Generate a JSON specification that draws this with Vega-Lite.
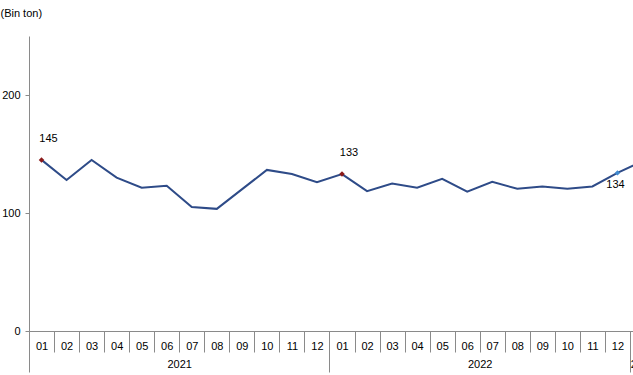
{
  "$schema": "https://vega.github.io/schema/vega-lite/v6.json",
  "width": 626,
  "height": 295,
  "autosize": "none",
  "padding": {"left": 29, "top": 36, "right": -22, "bottom": 44},
  "background": "white",
  "config": {
    "font": "Liberation Sans",
    "view": {"stroke": null},
    "axis": {
      "labelFont": "Liberation Sans",
      "labelFontSize": 11,
      "labelColor": "#000000",
      "domainColor": "#8a8a8a",
      "tickColor": "#8a8a8a",
      "grid": false
    }
  },
  "data": {
    "values": [
      {"key": "2021-01", "value": 145, "marker": "red", "pos": "above"},
      {"key": "2021-02", "value": 128},
      {"key": "2021-03", "value": 145},
      {"key": "2021-04", "value": 130},
      {"key": "2021-05", "value": 121.5},
      {"key": "2021-06", "value": 123},
      {"key": "2021-07", "value": 105},
      {"key": "2021-08", "value": 103.5},
      {"key": "2021-09", "value": 120},
      {"key": "2021-10", "value": 136.5},
      {"key": "2021-11", "value": 133},
      {"key": "2021-12", "value": 126},
      {"key": "2022-01", "value": 133, "marker": "red", "pos": "above"},
      {"key": "2022-02", "value": 118.5},
      {"key": "2022-03", "value": 125},
      {"key": "2022-04", "value": 121.5},
      {"key": "2022-05", "value": 129},
      {"key": "2022-06", "value": 118},
      {"key": "2022-07", "value": 126.5},
      {"key": "2022-08", "value": 120.5},
      {"key": "2022-09", "value": 122.5},
      {"key": "2022-10", "value": 120.5},
      {"key": "2022-11", "value": 122.5},
      {"key": "2022-12", "value": 134, "marker": "blue", "pos": "below"},
      {"key": "2023-01", "value": 144, "marker": "red", "pos": "above"}
    ]
  },
  "encoding": {
    "y": {
      "field": "value", "type": "quantitative",
      "scale": {"domain": [0, 250], "nice": false},
      "axis": {
        "orient": "left",
        "values": [0, 100, 200],
        "tickSize": 4,
        "labelPadding": 5,
        "title": "(Bin  ton)",
        "titleAngle": 0,
        "titleX": -29,
        "titleY": -23,
        "titleAlign": "left",
        "titleBaseline": "middle",
        "titleFont": "Liberation Sans",
        "titleFontSize": 11,
        "titleFontWeight": "normal",
        "titleColor": "#000000"
      }
    }
  },
  "resolve": {"axis": {"x": "independent"}},
  "layer": [
    {
      "mark": {"type": "line", "color": "#2E4B88", "strokeWidth": 2},
      "encoding": {
        "x": {
          "field": "key", "type": "ordinal",
          "scale": {"type": "point", "padding": 0.5},
          "axis": {
            "orient": "bottom",
            "title": null,
            "labelExpr": "substring(datum.value, 5, 7)",
            "labelAngle": 0,
            "tickSize": 21,
            "tickOffset": -12.52,
            "labelOffset": 12.52,
            "labelPadding": -12,
            "domain": true
          }
        }
      }
    },
    {
      "mark": {"type": "line", "opacity": 0},
      "encoding": {
        "x": {
          "field": "key", "type": "ordinal",
          "axis": {
            "orient": "bottom",
            "title": null,
            "values": ["2021-01", "2022-01", "2023-01"],
            "tickSize": 41,
            "tickOffset": -12.52,
            "labels": false,
            "domain": false
          }
        }
      }
    },
    {
      "mark": {"type": "line", "opacity": 0},
      "encoding": {
        "x": {
          "field": "key", "type": "ordinal",
          "axis": {
            "orient": "bottom",
            "title": null,
            "values": ["2021-07", "2022-07", "2023-01"],
            "ticks": false,
            "tickSize": 0,
            "domain": false,
            "labelAngle": 0,
            "labelExpr": "substring(datum.value, 0, 4)",
            "labelOffset": {"condition": {"test": "datum.value === '2023-01'", "value": 0}, "value": -12.52},
            "labelPadding": 27
          }
        }
      }
    },
    {
      "transform": [{"filter": "datum.marker != null"}],
      "mark": {"type": "point", "shape": "diamond", "filled": true, "opacity": 1},
      "encoding": {
        "x": {"field": "key", "type": "ordinal", "axis": null},
        "color": {
          "field": "marker", "type": "nominal",
          "scale": {"domain": ["red", "blue"], "range": ["#8B1A1A", "#3F8AD0"]},
          "legend": null
        },
        "size": {"value": 30}
      }
    },
    {
      "transform": [{"filter": "datum.pos === 'above'"}],
      "mark": {"type": "text", "align": "center", "baseline": "middle", "dx": 7, "dy": -21, "fontSize": 11, "color": "#000000"},
      "encoding": {
        "x": {"field": "key", "type": "ordinal", "axis": null},
        "text": {"field": "value", "type": "quantitative", "format": ".0f"}
      }
    },
    {
      "transform": [{"filter": "datum.pos === 'below'"}],
      "mark": {"type": "text", "align": "center", "baseline": "middle", "dx": -2, "dy": 12, "fontSize": 11, "color": "#000000"},
      "encoding": {
        "x": {"field": "key", "type": "ordinal", "axis": null},
        "text": {"field": "value", "type": "quantitative", "format": ".0f"}
      }
    }
  ]
}
